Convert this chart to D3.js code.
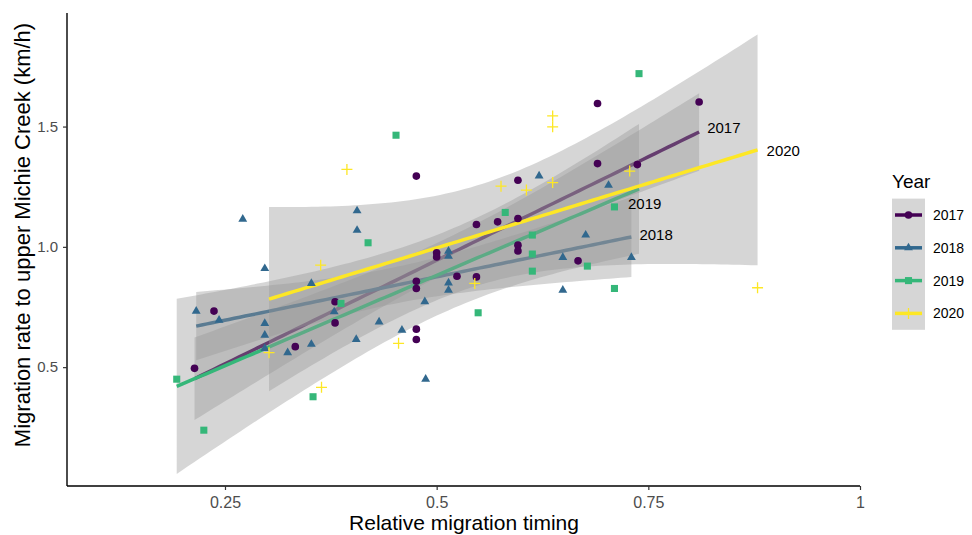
<!DOCTYPE html>
<html>
<body style="margin:0;background:#fff">

<script src="https://d3js.org/d3.v7.min.js"></script>
<style>
  text { font-family: "Liberation Sans", Arial, sans-serif; }
</style>

<script>

// data
var years = ["2017", "2018", "2019", "2020"];
var colors = ["#440154", "#31688E", "#35B779", "#FDE725"];

var x2017 = [0.214, 0.237, 0.333, 0.380, 0.380, 0.476, 0.476, 0.476, 0.476, 0.476, 0.500, 0.500, 0.524,
             0.547, 0.547, 0.572, 0.596, 0.596, 0.596, 0.596, 0.667, 0.690, 0.690, 0.737, 0.810];
var y2017 = [0.495, 0.733, 0.585, 0.772, 0.684, 0.857, 0.827, 0.658, 0.615, 1.294, 0.975, 0.958, 0.878,
             0.875, 1.093, 1.104, 1.118, 1.007, 0.983, 1.277, 0.942, 1.346, 1.596, 1.342, 1.602];

var x2018 = [0.216, 0.243, 0.271, 0.297, 0.297, 0.297, 0.297, 0.324, 0.352, 0.352, 0.379, 0.406, 0.406, 0.405,
             0.432, 0.459, 0.486, 0.487, 0.514, 0.514, 0.514, 0.514, 0.621, 0.649, 0.649, 0.676, 0.703, 0.730];
var y2018 = [0.733, 0.695, 1.115, 0.910, 0.682, 0.633, 0.578, 0.560, 0.848, 0.595, 0.730, 1.150, 1.069, 0.615,
             0.688, 0.654, 0.772, 0.450, 0.982, 0.961, 0.850, 0.820, 1.295, 0.956, 0.820, 1.049, 1.256, 0.956];

var x2019 = [0.193, 0.225, 0.354, 0.387, 0.419, 0.452, 0.549, 0.581, 0.613, 0.613, 0.613, 0.678, 0.710, 0.710, 0.739];
var y2019 = [0.450, 0.238, 0.377, 0.765, 1.017, 1.464, 0.726, 1.143, 1.049, 0.970, 0.899, 0.920, 1.166, 0.827, 1.720];

var x2020 = [0.302, 0.363, 0.364, 0.394, 0.455, 0.545, 0.576, 0.606, 0.637, 0.637, 0.637, 0.728, 0.879];
var y2020 = [0.560, 0.924, 0.416, 1.322, 0.599, 0.848, 1.252, 1.236, 1.544, 1.499, 1.267, 1.315, 0.830];

var xs = [x2017, x2018, x2019, x2020];
var ys = [y2017, y2018, y2019, y2020];

var xTicks = [0.25, 0.5, 0.75, 1];
var xTickLabels = ["0.25", "0.5", "0.75", "1"];
var yTicks = [0.5, 1.0, 1.5];
var yTickLabels = ["0.5", "1.0", "1.5"];

// end-of-line label nudges (px)
var labelNudge = [[8, -4], [8, -2], [-11, 15], [9, 1]];

var W = 972, H = 535;
var mLeft = 67, mRight = 860, mTop = 13, mBottom = 486;

var svg = d3.select("body").append("svg")
    .attr("width", W).attr("height", H);

var xScale = d3.scaleLinear().domain([0.0634, 1.0]).range([mLeft, mRight]);
var yScale = d3.scaleLinear().domain([0.006, 1.972]).range([mBottom, mTop]);

// t quantile (0.975) by Cornish-Fisher expansion
function tq(df) {
  var z = 1.959964;
  return z + (Math.pow(z, 3) + z) / (4 * df)
    + (5 * Math.pow(z, 5) + 16 * Math.pow(z, 3) + 3 * z) / (96 * df * df)
    + (3 * Math.pow(z, 7) + 19 * Math.pow(z, 5) + 17 * Math.pow(z, 3) - 15 * z) / (384 * df * df * df);
}

function fit(xv, yv) {
  var n = xv.length;
  var mx = d3.mean(xv), my = d3.mean(yv);
  var sxx = 0, sxy = 0;
  for (var i = 0; i < n; i++) {
    sxx += (xv[i] - mx) * (xv[i] - mx);
    sxy += (xv[i] - mx) * (yv[i] - my);
  }
  var b = sxy / sxx, a = my - b * mx;
  var sse = 0;
  for (var i = 0; i < n; i++) sse += Math.pow(yv[i] - a - b * xv[i], 2);
  var s = Math.sqrt(sse / (n - 2));
  var t = tq(n - 2);
  var lo = d3.min(xv), hi = d3.max(xv);
  return d3.range(81).map(function(k) {
    var xx = lo + (hi - lo) * k / 80;
    var yy = a + b * xx;
    var se = s * Math.sqrt(1 / n + (xx - mx) * (xx - mx) / sxx);
    return {x: xx, y: yy, lo: yy - t * se, hi: yy + t * se};
  });
}

var area = d3.area()
    .x(function(d) { return xScale(d.x); })
    .y0(function(d) { return yScale(d.lo); })
    .y1(function(d) { return yScale(d.hi); });

var line = d3.line()
    .x(function(d) { return xScale(d.x); })
    .y(function(d) { return yScale(d.y); });

var fits = xs.map(function(xv, i) { return fit(xv, ys[i]); });

// smooths: ribbon then line, group by group
var smooth = svg.append("g");
fits.forEach(function(f, i) {
  smooth.append("path").attr("d", area(f))
    .attr("fill", "#999999").attr("fill-opacity", 0.4);
  smooth.append("path").attr("d", line(f))
    .attr("fill", "none").attr("stroke", colors[i]).attr("stroke-width", 3.5);
});

// point shapes
function marker(sel, i) {
  if (i == 0) sel.append("path").attr("d", d3.symbol(d3.symbolCircle, 46)()).attr("fill", colors[i]);
  if (i == 1) sel.append("path").attr("d", d3.symbol(d3.symbolTriangle, 34)()).attr("fill", colors[i]);
  if (i == 2) sel.append("path").attr("d", d3.symbol(d3.symbolSquare, 50)()).attr("fill", colors[i]);
  if (i == 3) sel.append("path").attr("d", "M-5.5,0H5.5M0,-5.5V5.5")
                 .attr("stroke", colors[i]).attr("stroke-width", 1.3).attr("fill", "none");
}

xs.forEach(function(xv, i) {
  var g = svg.append("g");
  xv.forEach(function(xx, j) {
    var p = g.append("g")
      .attr("transform", "translate(" + xScale(xx) + "," + yScale(ys[i][j]) + ")");
    marker(p, i);
  });
});

// end labels
fits.forEach(function(f, i) {
  var e = f[f.length - 1];
  svg.append("text")
    .attr("x", xScale(e.x) + labelNudge[i][0])
    .attr("y", yScale(e.y) + labelNudge[i][1])
    .attr("dy", "0.35em")
    .style("font-size", "15px").attr("fill", "#000")
    .text(years[i]);
});

// axes
var xAxis = d3.axisBottom(xScale).tickValues(xTicks)
    .tickFormat(function(d, i) { return xTickLabels[i]; })
    .tickSize(4).tickPadding(7);
var yAxis = d3.axisLeft(yScale).tickValues(yTicks)
    .tickFormat(function(d, i) { return yTickLabels[i]; })
    .tickSize(4).tickPadding(5);

var gx = svg.append("g").attr("transform", "translate(0," + mBottom + ")").call(xAxis);
var gy = svg.append("g").attr("transform", "translate(" + mLeft + ",0)").call(yAxis);

gx.select(".domain").attr("d", "M" + mLeft + ",0H" + mRight);
gy.select(".domain").attr("d", "M0," + mTop + "V" + mBottom);

[gx, gy].forEach(function(g) {
  g.select(".domain").attr("stroke", "#000").attr("stroke-width", 1.4);
  g.selectAll(".tick line").attr("stroke", "#333").attr("stroke-width", 1.2);
  g.selectAll(".tick text").attr("fill", "#4d4d4d")
    .style("font-family", "Liberation Sans, Arial, sans-serif");
});
gx.selectAll(".tick text").style("font-size", "16px");
gy.selectAll(".tick text").style("font-size", "15px");

svg.append("text")
  .attr("x", 464).attr("y", 530)
  .attr("text-anchor", "middle").style("font-size", "21px")
  .text("Relative migration timing");

svg.append("text")
  .attr("transform", "translate(30,235) rotate(-90)")
  .attr("text-anchor", "middle").style("font-size", "22px")
  .text("Migration rate to upper Michie Creek (km/h)");

// legend
var leg = svg.append("g");
leg.append("text").attr("x", 892).attr("y", 188).style("font-size", "19px").text("Year");
leg.append("rect").attr("x", 892).attr("y", 198.6).attr("width", 33).attr("height", 4 * 32.8)
  .attr("fill", "#d6d6d6");
years.forEach(function(yr, i) {
  var cy = 215 + i * 32.8;
  leg.append("line").attr("x1", 895).attr("x2", 922).attr("y1", cy).attr("y2", cy)
    .attr("stroke", colors[i]).attr("stroke-width", 3.5);
  var m = leg.append("g").attr("transform", "translate(908.5," + cy + ")");
  marker(m, i);
  leg.append("text").attr("x", 933).attr("y", cy).attr("dy", "0.35em")
    .style("font-size", "14px").text(yr);
});

</script>
</body>
</html>
